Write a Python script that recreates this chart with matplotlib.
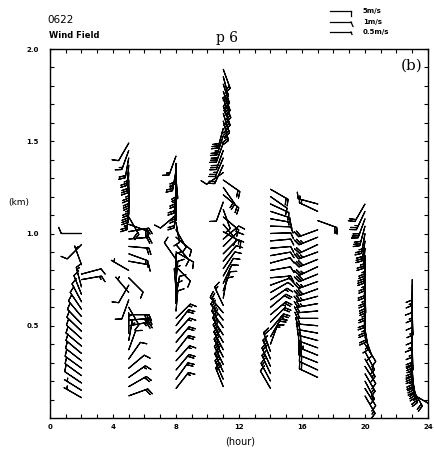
import numpy as np
import matplotlib.pyplot as plt
from matplotlib.lines import Line2D

# sounding times (hour) and per-column profiles: height (km), direction (deg, from), speed (m/s)
hours = [2, 5, 8, 11, 14, 17, 20, 23]

h02 = [0.11, 0.15, 0.19, 0.23, 0.27, 0.31, 0.35, 0.39, 0.43, 0.47, 0.51,
       0.55, 0.59, 0.63, 0.67, 0.71, 0.75, 0.78, 0.83, 0.94, 1.00]
d02 = [300, 302, 304, 306, 306, 308, 310, 310, 312, 314, 316,
       320, 326, 332, 338, 345, 80, 75, 340, 225, 270]
s02 = [2, 3, 5, 5, 5, 6, 5, 6, 5, 6, 5,
       6, 5, 6, 5, 7, 8, 6, 3, 5, 5]

h05 = [0.12, 0.17, 0.22, 0.27, 0.32, 0.37, 0.42, 0.46, 0.50, 0.53, 0.56, 0.60,
       0.64, 0.68, 0.72, 0.76, 0.80, 0.85, 0.89, 0.93, 0.97, 1.01, 1.05, 1.09,
       1.13, 1.17, 1.21, 1.25, 1.29, 1.33, 1.37, 1.41, 1.45, 1.49]
d05 = [70, 60, 55, 50, 35, 20, 10, 0, 80, 85, 90, 150,
       200, 320, 210, 135, 300, 100, 110, 95, 85, 80, 110, 150,
       185, 182, 180, 178, 180, 183, 185, 190, 200, 210]
s05 = [10, 10, 7, 5, 5, 5, 3, 3, 12, 15, 15, 5,
       5, 3, 5, 5, 3, 5, 7, 10, 10, 10, 10, 10,
       12, 15, 12, 15, 12, 15, 12, 10, 8, 5]

h08 = [0.16, 0.21, 0.26, 0.31, 0.36, 0.41, 0.46, 0.50, 0.54, 0.58, 0.62,
       0.66, 0.70, 0.74, 0.78, 0.82, 0.86, 0.90, 0.94, 0.98, 1.02,
       1.06, 1.10, 1.14, 1.18, 1.22, 1.26, 1.30, 1.34, 1.38, 1.42]
d08 = [38, 36, 40, 42, 38, 40, 42, 38, 45, 5, 0,
       10, 355, 5, 0, 135, 325, 120, 140, 130, 150,
       170, 230, 185, 180, 185, 180, 175, 190, 180, 200]
s08 = [8, 10, 10, 8, 10, 10, 8, 10, 7, 5, 5,
       5, 5, 5, 5, 6, 5, 6, 6, 5, 5,
       5, 5, 10, 12, 10, 12, 10, 12, 10, 8]

h11 = [0.17, 0.21, 0.25, 0.29, 0.33, 0.37, 0.41, 0.45, 0.49, 0.53, 0.57,
       0.61, 0.65, 0.69, 0.73, 0.77, 0.81, 0.85, 0.89, 0.93, 0.97,
       1.01, 1.05, 1.09, 1.13, 1.17, 1.21, 1.25, 1.29, 1.33, 1.37,
       1.41, 1.45, 1.49, 1.53, 1.57, 1.61, 1.65, 1.69, 1.73, 1.77,
       1.81, 1.85, 1.89]
d11 = [338, 336, 335, 334, 333, 332, 330, 328, 325, 322, 320,
       335, 10, 20, 25, 30, 35, 40, 45, 45, 50,
       120, 140, 130, 160, 200, 130, 145, 125, 235, 205,
       203, 200, 200, 198, 195, 165, 162, 160, 158, 160,
       162, 165, 160]
s11 = [10, 12, 12, 15, 12, 15, 12, 12, 15, 12, 10,
       7, 5, 5, 5, 5, 5, 5, 5, 5, 5,
       7, 5, 7, 5, 5, 10, 10, 10, 5, 10,
       12, 15, 15, 12, 15, 12, 15, 15, 12, 15,
       12, 10, 7]

h14 = [0.16, 0.20, 0.24, 0.28, 0.32, 0.36, 0.40, 0.44, 0.48, 0.52,
       0.56, 0.60, 0.64, 0.68, 0.72, 0.76, 0.80, 0.84, 0.88, 0.92,
       0.96, 1.00, 1.04, 1.08, 1.12, 1.16, 1.20, 1.24]
d14 = [330, 332, 335, 335, 338, 340, 20, 30, 40, 45,
       50, 50, 55, 60, 70, 85, 80, 75, 80, 85,
       85, 88, 92, 100, 108, 115, 125, 120]
s14 = [5, 7, 7, 10, 7, 10, 7, 10, 12, 10,
       12, 10, 7, 5, 5, 7, 5, 5, 5, 5,
       5, 5, 5, 7, 7, 5, 5, 10]

h17 = [0.22, 0.26, 0.30, 0.34, 0.38, 0.42, 0.46, 0.50, 0.54, 0.58, 0.62, 0.66,
       0.70, 0.74, 0.78, 0.82, 0.86, 0.90, 0.94, 0.98, 1.02, 1.07, 1.12, 1.16]
d17 = [295, 295, 292, 292, 290, 285, 280, 275, 270, 265, 260, 255,
       250, 250, 248, 245, 248, 250, 245, 248, 250, 110, 295, 285]
s17 = [10, 10, 10, 12, 10, 10, 10, 10, 10, 10, 12, 12,
       15, 12, 15, 12, 15, 12, 10, 12, 10, 10, 7, 7]

h20 = [0.12, 0.16, 0.20, 0.24, 0.28, 0.32, 0.36, 0.40, 0.44, 0.48, 0.52, 0.56,
       0.60, 0.64, 0.68, 0.72, 0.76, 0.80, 0.84, 0.88, 0.92, 0.96, 1.00, 1.04,
       1.08, 1.12, 1.16]
d20 = [150, 148, 152, 150, 148, 150, 152, 148, 160, 170, 178, 180,
       182, 180, 178, 180, 182, 180, 183, 180, 185, 188, 190, 195,
       200, 205, 210]
s20 = [7, 5, 7, 7, 5, 7, 7, 5, 5, 7, 10, 12,
       10, 12, 15, 12, 10, 12, 15, 12, 12, 15, 12, 15,
       15, 12, 10]

h23 = [0.13, 0.16, 0.19, 0.22, 0.25, 0.28, 0.31, 0.34, 0.37, 0.40,
       0.44, 0.48, 0.52, 0.56, 0.60, 0.64, 0.68, 0.72, 0.75]
d23 = [120, 150, 165, 170, 175, 178, 180, 180, 178, 180,
       180, 182, 180, 178, 180, 180, 182, 180, 180]
s23 = [5, 10, 12, 15, 15, 12, 15, 12, 15, 10,
       7, 7, 5, 7, 5, 7, 5, 7, 5]

heights = [h02, h05, h08, h11, h14, h17, h20, h23]
directions = [d02, d05, d08, d11, d14, d17, d20, d23]
speeds = [s02, s05, s08, s11, s14, s17, s20, s23]

xticks_major = [0, 4, 8, 12, 16, 20, 24]
yticks_major = [0.5, 1.0, 1.5, 2.0]

W, H = 435, 458
fig = plt.figure(figsize=(W / 100, H / 100), dpi=100)
ax = fig.add_axes([50 / W, 1 - 418 / H, 378 / W, 369 / H])

x = np.concatenate([np.full(len(h), t, dtype=float) for t, h in zip(hours, heights)])
y = np.concatenate([np.asarray(h, dtype=float) for h in heights])
d = np.radians(np.concatenate([np.asarray(a, dtype=float) for a in directions]))
s = np.concatenate([np.asarray(a, dtype=float) for a in speeds])
u = -s * np.sin(d)
v = -s * np.cos(d)

ax.barbs(x, y, u, v, length=5.4, linewidth=0.85, color='black',
         barb_increments=dict(half=2.5, full=5, flag=100),
         sizes=dict(height=0.3, spacing=0.11))

ax.set_xlim(0, 24)
ax.set_ylim(0, 2.0)
ax.set_xticks(xticks_major)
ax.set_xticklabels([str(t) for t in xticks_major])
ax.set_xticks(np.arange(0, 25, 1), minor=True)
ax.set_yticks(yticks_major)
ax.set_yticklabels(['%.1f' % t for t in yticks_major])
ax.set_yticks(np.arange(0.1, 2.0, 0.1), minor=True)
ax.tick_params(which='both', direction='in', length=3, width=0.8,
               top=True, right=True, labelsize=5)
ax.tick_params(axis='x', pad=4)
ax.tick_params(axis='y', pad=8)
for lab in ax.get_xticklabels() + ax.get_yticklabels():
    lab.set_fontweight('bold')
for sp in ax.spines.values():
    sp.set_linewidth(1.0)

ax.text(0.985, 0.975, '(b)', transform=ax.transAxes, ha='right', va='top',
        fontsize=11, family='DejaVu Serif')

fig.text(240 / W, 1 - 442 / H, '(hour)', ha='center', va='center', fontsize=7)
fig.text(8 / W, 1 - 202 / H, '(km)', ha='left', va='center', fontsize=6.5)
fig.text(47 / W, 1 - 20 / H, '0622', ha='left', va='center', fontsize=7.5)
fig.text(49 / W, 1 - 36 / H, 'Wind Field', ha='left', va='center', fontsize=6,
         fontweight='bold')
fig.text(227 / W, 1 - 38 / H, 'p 6', ha='center', va='center', fontsize=10,
         family='DejaVu Serif')

# speed key, top right
key_labels = ['5m/s', '1m/s', '0.5m/s']
key_rows = [11, 22, 32]
key_ticks = [(0, 4.5), (2, 4.5), (1, 2.5)]
for lab, yy, (dx, dy) in zip(key_labels, key_rows, key_ticks):
    fig.add_artist(Line2D([330 / W, 351 / W], [1 - yy / H, 1 - yy / H],
                          color='black', lw=0.9))
    fig.add_artist(Line2D([351 / W, (351 + dx) / W], [1 - yy / H, 1 - (yy + dy) / H],
                          color='black', lw=0.9))
    fig.text(363 / W, 1 - yy / H, lab, ha='left', va='center', fontsize=5,
             fontweight='bold')

fig.savefig('out.png', dpi=100)
